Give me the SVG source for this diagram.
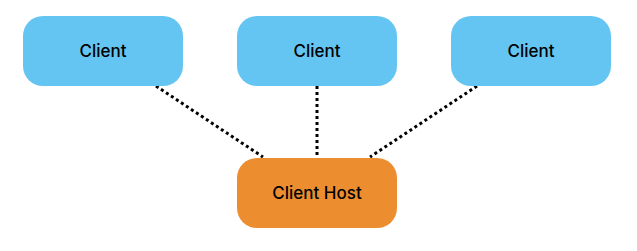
<svg xmlns="http://www.w3.org/2000/svg" width="637" height="251" viewBox="0 0 637 251">
<style>
.client{fill:#64c5f2}
.host{fill:#ec8e30}
.lbl{font-family:Inter,"Liberation Sans",sans-serif;font-size:17px;font-weight:500;fill:#000;text-anchor:middle;dominant-baseline:central}
.edge{stroke:#000;stroke-width:3;stroke-dasharray:3 3;fill:none}
</style>
<rect width="637" height="251" fill="#fff"/>
<g id="connectors">
<line class="edge" x1="156" y1="86" x2="263" y2="157"/>
<line class="edge" x1="317" y1="86" x2="317" y2="157"/>
<line class="edge" x1="477" y1="86" x2="370" y2="157"/>
</g>
<g id="client1"><rect class="client" x="23" y="16" width="160" height="70" rx="20"/><text class="lbl" x="103" y="51">Client</text></g>
<g id="client2"><rect class="client" x="237" y="16" width="160" height="70" rx="20"/><text class="lbl" x="317" y="51">Client</text></g>
<g id="client3"><rect class="client" x="451" y="16" width="160" height="70" rx="20"/><text class="lbl" x="531" y="51">Client</text></g>
<g id="host"><rect class="host" x="237" y="158" width="160" height="70" rx="20"/><text class="lbl" x="317" y="193">Client Host</text></g>
</svg>
